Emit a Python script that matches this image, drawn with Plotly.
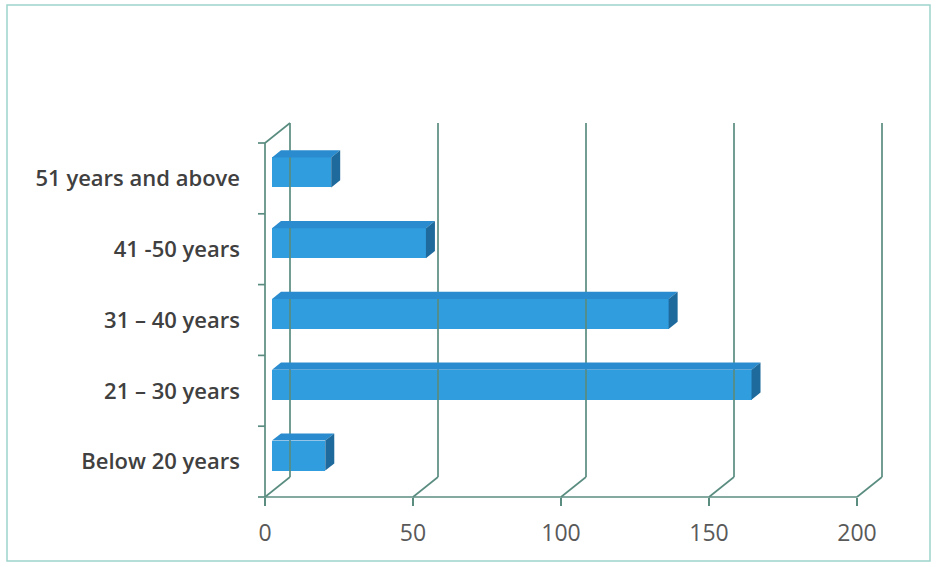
import plotly.graph_objects as go

# Age groups of respondents and their counts
categories = ["Below 20 years", "21 – 30 years", "31 – 40 years", "41 -50 years", "51 years and above"]
counts = [18, 162, 134, 52, 20]
value_ticks = [0, 50, 100, 150, 200]

W, H = 936, 567
PX_PER_UNIT = 2.96          # horizontal pixels per count unit
PX_PER_CAT = 70.8           # vertical pixels per category slot
X0_PX, Y0_PX = 265, 497     # pixel position of the front (0, bottom) corner

# 3D depth of the wall box, expressed in data units
DEPTH_X = 25 / PX_PER_UNIT
DEPTH_Y = 20 / PX_PER_CAT

# bar placement inside the box
BAR_DEPTH_FRONT = 7 / PX_PER_UNIT     # bar front plane offset (x)
BAR_SHIFT_Y = 6 / PX_PER_CAT          # bar front plane offset (y)
BAR_WIDTH = 30 / PX_PER_CAT
BAR_DX = 9 / PX_PER_UNIT              # bar's own depth
BAR_DY = 7.2 / PX_PER_CAT

GRID = "#5a8c80"
FRONT = "#309ddf"
TOP = "#2a8ccf"
SIDE = "#1e6a9c"

x_lo = -X0_PX / PX_PER_UNIT
x_hi = x_lo + W / PX_PER_UNIT
y_lo = (Y0_PX - H) / PX_PER_CAT - 0.5
y_hi = Y0_PX / PX_PER_CAT - 0.5

n = len(categories)
bottom, top = -0.5, n - 0.5

fig = go.Figure()

# wall / floor frame lines
lx, ly = [], []
def seg(x1, y1, x2, y2):
    lx.extend([x1, x2, None])
    ly.extend([y1, y2, None])

seg(0, bottom, 0, top)                                   # front-left edge
seg(0, top, DEPTH_X, top + DEPTH_Y)                      # top-left diagonal
seg(0, bottom, value_ticks[-1], bottom)                  # front floor edge
for t in value_ticks:
    seg(t, bottom, t + DEPTH_X, bottom + DEPTH_Y)        # floor diagonals
    seg(t + DEPTH_X, bottom + DEPTH_Y, t + DEPTH_X, top + DEPTH_Y)  # back wall gridlines
for k in range(n + 1):
    seg(-7 / PX_PER_UNIT, bottom + k, 0, bottom + k)     # category boundary ticks

fig.add_trace(go.Scatter(x=lx, y=ly, mode="lines", line=dict(color=GRID, width=1.7),
                         hoverinfo="skip", showlegend=False))

# bar front faces
ycent = [i + BAR_SHIFT_Y for i in range(n)]
fig.add_trace(go.Bar(
    y=ycent, x=counts, base=[BAR_DEPTH_FRONT] * n, orientation="h", width=BAR_WIDTH,
    marker=dict(color=FRONT, line=dict(width=0)), showlegend=False,
))

# bar top and side faces
for yc, v in zip(ycent, counts):
    x1 = BAR_DEPTH_FRONT
    x2 = BAR_DEPTH_FRONT + v
    yt = yc + BAR_WIDTH / 2
    yb = yc - BAR_WIDTH / 2
    fig.add_trace(go.Scatter(
        x=[x1, x2, x2 + BAR_DX, x1 + BAR_DX, x1],
        y=[yt, yt, yt + BAR_DY, yt + BAR_DY, yt],
        fill="toself", fillcolor=TOP, mode="lines", line=dict(width=0, color=TOP),
        hoverinfo="skip", showlegend=False))
    fig.add_trace(go.Scatter(
        x=[x2, x2 + BAR_DX, x2 + BAR_DX, x2, x2],
        y=[yb, yb + BAR_DY, yt + BAR_DY, yt, yb],
        fill="toself", fillcolor=SIDE, mode="lines", line=dict(width=0, color=SIDE),
        hoverinfo="skip", showlegend=False))

fig.update_layout(
    width=W, height=H,
    margin=dict(l=0, r=0, t=0, b=0, autoexpand=False),
    paper_bgcolor="white", plot_bgcolor="rgba(0,0,0,0)",
    bargap=0,
    xaxis=dict(
        range=[x_lo, x_hi], anchor="free", position=(H - Y0_PX) / H,
        showgrid=False, zeroline=False, showline=False,
        tickvals=value_ticks, ticks="outside", ticklen=8, tickcolor=GRID, tickwidth=1.7,
        ticklabelstandoff=7,
        tickfont=dict(family="Open Sans", size=23, color="#595959"),
        fixedrange=True,
    ),
    yaxis=dict(
        range=[y_lo, y_hi], anchor="free", position=X0_PX / W,
        showgrid=False, zeroline=False, showline=False,
        tickvals=list(range(n)), ticktext=categories, ticks="",
        ticklabelstandoff=25,
        tickfont=dict(family="Open Sans", size=22, color="#404040", weight=600),
        fixedrange=True,
    ),
    shapes=[dict(type="rect", xref="paper", yref="paper",
                 x0=7 / W, x1=930 / W, y0=1 - 561 / H, y1=1 - 5 / H,
                 line=dict(color="#9fd3cb", width=1.5), fillcolor="rgba(0,0,0,0)")],
)

fig.write_html("out.html")
